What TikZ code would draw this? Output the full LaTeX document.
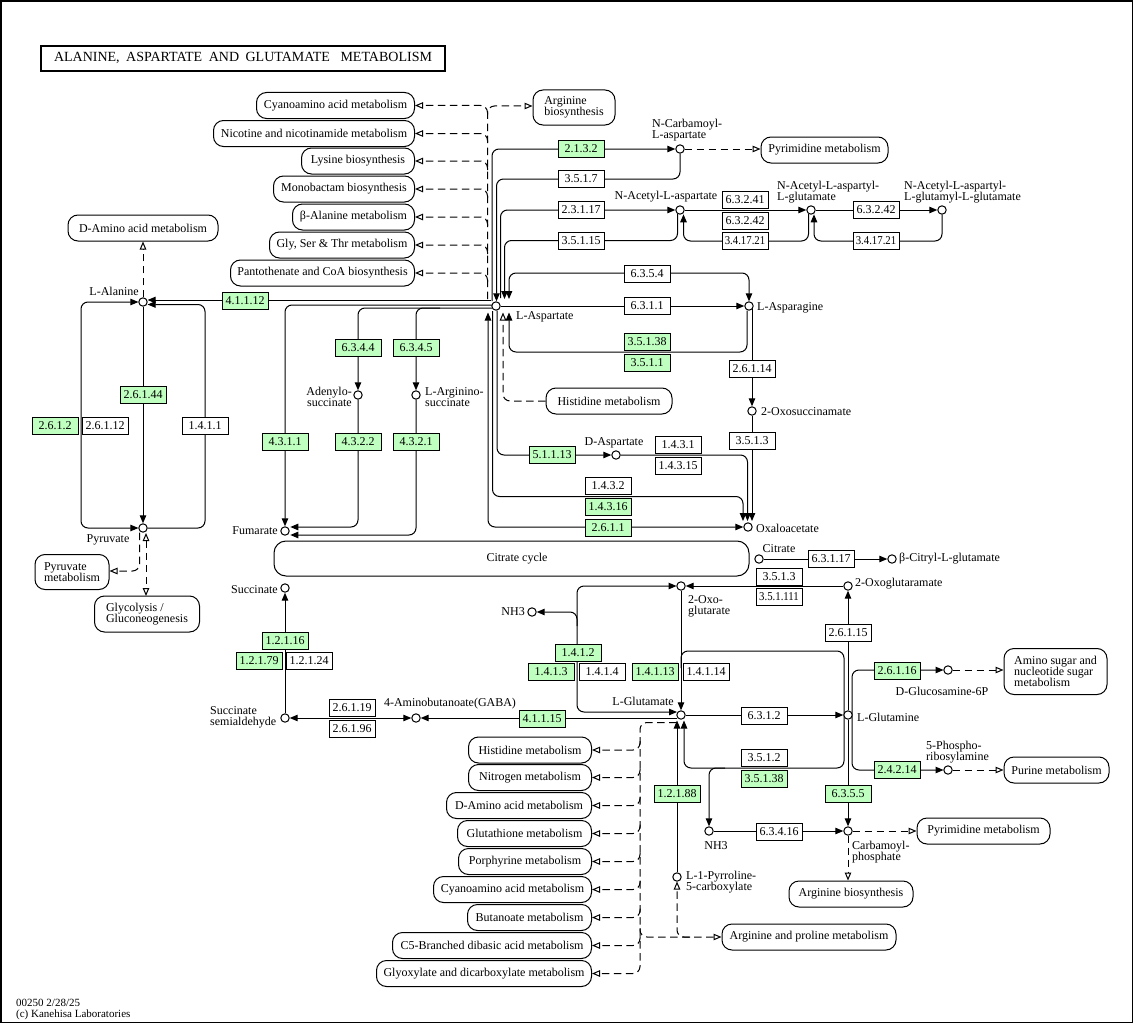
\documentclass[tikz,border=0pt]{standalone}
\usepackage{fontspec}
\setmainfont{Liberation Serif}
\usetikzlibrary{arrows.meta}
\definecolor{kgreen}{RGB}{191,255,191}
\pgfdeclarelayer{bg}
\pgfsetlayers{bg,main}
\newcommand{\narrowtext}[1]{\scalebox{0.9}[1]{#1}}
\begin{document}
\begin{tikzpicture}[x=1pt,y=-1pt,
  cpd/.style={circle,draw,fill=white,inner sep=0pt,minimum size=8.4pt,line width=1pt},
  enz/.style={draw,fill=white,inner sep=0pt,minimum width=46pt,minimum height=17pt,line width=1pt,font=\fontsize{12}{12}\selectfont},
  genz/.style={enz,fill=kgreen},
  mapb/.style={draw,fill=white,rounded corners=10pt,minimum height=26pt,inner sep=0pt,line width=1pt,font=\fontsize{12}{11}\selectfont,align=left},
  lbl/.style={inner sep=0pt,font=\fontsize{12}{11}\selectfont,align=left},
  ln/.style={line width=1pt,rounded corners=7pt},
  ar/.style={-{Triangle[length=8pt,width=6.5pt]}},
  bar/.style={{Triangle[length=8pt,width=6.5pt]}-{Triangle[length=8pt,width=6.5pt]}},
  dsh/.style={line width=1pt,rounded corners=7pt,dash pattern=on 7.5pt off 4.5pt},
  oar/.style={-{Triangle[open,length=8pt,width=6.5pt,fill=white]}},
  boar/.style={{Triangle[open,length=8pt,width=6.5pt,fill=white]}-{Triangle[open,length=8pt,width=6.5pt,fill=white]}}
]
\useasboundingbox (0,0) rectangle (1136,1025);
\draw[line width=1.2pt] (1,1) rectangle (1132.5,1022.5);

% title and footer
\node[draw,line width=1.5pt,minimum width=404pt,minimum height=25pt,inner sep=0pt,font=\fontsize{14}{14}\selectfont] (title) at (243,58.3)
  {\makebox[378pt][s]{ALANINE, ASPARTATE AND GLUTAMATE\hspace{4pt} METABOLISM}};
\node[lbl,anchor=west,font=\fontsize{11}{11}\selectfont] (ver) at (16,1003) {00250 2/28/25};
\node[lbl,anchor=west,font=\fontsize{11}{11}\selectfont] (copy) at (16,1015) {(c) Kanehisa Laboratories};

% ---------- maps ----------
\node[mapb,anchor=east,minimum width=158pt] (mcya1) at (415,105.5) {Cyanoamino acid metabolism};
\node[mapb,anchor=east,minimum width=201pt] (mnic) at (415,133.5) {Nicotine and nicotinamide metabolism};
\node[mapb,anchor=east,minimum width=113pt] (mlys) at (415,161) {Lysine biosynthesis};
\node[mapb,anchor=east,minimum width=141pt] (mmono) at (415,189) {Monobactam biosynthesis};
\node[mapb,anchor=east,minimum width=122pt] (mbala) at (415,217) {β-Alanine metabolism};
\node[mapb,anchor=east,minimum width=145pt] (mgly) at (415,245) {Gly, Ser \& Thr metabolism};
\node[mapb,anchor=east,minimum width=184pt] (mpan) at (415,273) {Pantothenate and CoA biosynthesis};
\node[mapb,minimum width=82pt,minimum height=35pt] (margb1) at (574,107.5) {Arginine\\biosynthesis};
\node[mapb,minimum width=127pt] (mpyr1) at (824.5,150) {Pyrimidine metabolism};
\node[mapb,minimum width=150pt] (mdam1) at (143,228) {D-Amino acid metabolism};
\node[mapb,minimum width=126pt] (mhis1) at (609,401) {Histidine metabolism};
\node[mapb,minimum width=74pt,minimum height=35pt] (mpyrm) at (72,572) {Pyruvate\\metabolism};
\node[mapb,minimum width=105pt,minimum height=36pt] (mglyc) at (147,614) {Glycolysis /\\Gluconeogenesis};
\node[mapb,minimum width=475pt,minimum height=35pt,rounded corners=12pt] (mtca) at (511.5,558.5) {\hspace*{11pt}Citrate cycle};
\node[mapb,minimum width=103pt,minimum height=46pt] (mamino) at (1055.5,671.5) {Amino sugar and\\nucleotide sugar\\metabolism};
\node[mapb,minimum width=105pt] (mpur) at (1056.5,770) {Purine metabolism};
\node[mapb,minimum width=133pt] (mpyr2) at (983.5,831) {Pyrimidine metabolism};
\node[mapb,minimum width=124pt] (margb2) at (851,894) {Arginine biosynthesis};
\node[mapb,minimum width=174pt] (margpro) at (809,937) {Arginine and proline metabolism};
\node[mapb,anchor=east,minimum width=123pt] (mhis2) at (592,750) {Histidine metabolism};
\node[mapb,anchor=east,minimum width=123pt] (mnit) at (592,777.5) {Nitrogen metabolism};
\node[mapb,anchor=east,minimum width=145pt] (mdam2) at (592,805.5) {D-Amino acid metabolism};
\node[mapb,anchor=east,minimum width=134pt] (mglut) at (592,833.5) {Glutathione metabolism};
\node[mapb,anchor=east,minimum width=133pt] (mpor) at (592,861.5) {Porphyrine metabolism};
\node[mapb,anchor=east,minimum width=158pt] (mcya2) at (592,889.5) {Cyanoamino acid metabolism};
\node[mapb,anchor=east,minimum width=124pt] (mbut) at (592,917.5) {Butanoate metabolism};
\node[mapb,anchor=east,minimum width=199pt] (mc5) at (592,945.5) {C5-Branched dibasic acid metabolism};
\node[mapb,anchor=east,minimum width=215pt] (mglx) at (592,973.5) {Glyoxylate and dicarboxylate metabolism};

% ---------- compounds ----------
\node[cpd] (ala) at (143,302) {};
\node[cpd] (pyr) at (143,528) {};
\node[cpd] (asp) at (496,306) {};
\node[cpd] (asn) at (749,306) {};
\node[cpd] (ncasp) at (680,149) {};
\node[cpd] (naa) at (680,210) {};
\node[cpd] (naag) at (811,210) {};
\node[cpd] (naagg) at (942,210) {};
\node[cpd] (adsucc) at (358,395) {};
\node[cpd] (argsucc) at (416,395) {};
\node[cpd] (oxosuc) at (752,411) {};
\node[cpd] (dasp) at (616,455) {};
\node[cpd] (oaa) at (748,527) {};
\node[cpd] (fum) at (285,531) {};
\node[cpd] (succ) at (285,588) {};
\node[cpd] (ssa) at (285,718) {};
\node[cpd] (gaba) at (416,718) {};
\node[cpd] (glu) at (681,715) {};
\node[cpd] (akg) at (681,586) {};
\node[cpd] (nh3a) at (532,612) {};
\node[cpd] (oxoglm) at (848,586) {};
\node[cpd] (cit) at (759,559) {};
\node[cpd] (bcit) at (892,559) {};
\node[cpd] (gln) at (848,715) {};
\node[cpd] (glcn) at (948,670) {};
\node[cpd] (prpp) at (948,770) {};
\node[cpd] (cp) at (848,831) {};
\node[cpd] (nh3b) at (709,831) {};
\node[cpd] (p5c) at (677,877) {};

% ---------- compound labels ----------
\node[lbl,anchor=east] (lala) at (139,291) {L-Alanine};
\node[lbl] (lpyr) at (108,540) {Pyruvate};
\node[lbl,anchor=west] (lasp) at (516,317) {L-Aspartate};
\node[lbl,anchor=west] (lasn) at (757,308) {L-Asparagine};
\node[lbl,anchor=west] (lncasp) at (652,130) {N-Carbamoyl-\\L-aspartate};
\node[lbl] (lnaa) at (666,197) {N-Acetyl-L-aspartate};
\node[lbl,anchor=west] (lnaag) at (777,192) {N-Acetyl-L-aspartyl-\\L-glutamate};
\node[lbl,anchor=west] (lnaagg) at (904,192) {N-Acetyl-L-aspartyl-\\L-glutamyl-L-glutamate};
\node[lbl,anchor=east,align=right] (ladsucc) at (352,397) {Adenylo-\\succinate};
\node[lbl,anchor=west] (largsucc) at (425,397) {L-Arginino-\\succinate};
\node[lbl,anchor=west] (loxosuc) at (761,412) {2-Oxosuccinamate};
\node[lbl] (ldasp) at (614,443) {D-Aspartate};
\node[lbl,anchor=west] (loaa) at (756,528) {Oxaloacetate};
\node[lbl,anchor=east] (lfum) at (278,531) {Fumarate};
\node[lbl,anchor=east] (lsucc) at (278,590) {Succinate};
\node[lbl,anchor=west] (lssa) at (210,717) {Succinate\\semialdehyde};
\node[lbl] (lgaba) at (450,704) {4-Aminobutanoate(GABA)};
\node[lbl,anchor=east] (lglu) at (674,701) {L-Glutamate};
\node[lbl,anchor=west] (lakg) at (688,606) {2-Oxo-\\glutarate};
\node[lbl,anchor=east] (lnh3a) at (525,612) {NH3};
\node[lbl,anchor=west] (loxoglm) at (855,584) {2-Oxoglutaramate};
\node[lbl] (lcit) at (779,549) {Citrate};
\node[lbl,anchor=west] (lbcit) at (899,559) {β-Citryl-L-glutamate};
\node[lbl,anchor=west] (lgln) at (857,717) {L-Glutamine};
\node[lbl] (lglcn) at (942,691) {D-Glucosamine-6P};
\node[lbl,anchor=west] (lprpp) at (926,752) {5-Phospho-\\ribosylamine};
\node[lbl,anchor=west] (lcp) at (852,852) {Carbamoyl-\\phosphate};
\node[lbl] (lnh3b) at (716,846) {NH3};
\node[lbl,anchor=west] (lp5c) at (686,882) {L-1-Pyrroline-\\5-carboxylate};

% ---------- enzymes ----------
\node[genz] (g2132) at (581,149) {2.1.3.2};
\node[enz] (w3517) at (581,179) {3.5.1.7};
\node[enz] (w23117) at (581,210) {2.3.1.17};
\node[enz] (w35115) at (581,240.5) {3.5.1.15};
\node[enz] (w63241) at (745,200) {6.3.2.41};
\node[enz] (w63242a) at (745,220.5) {6.3.2.42};
\node[enz] (w341721a) at (745,241) {\narrowtext{3.4.17.21}};
\node[enz] (w63242b) at (876,210) {6.3.2.42};
\node[enz] (w341721b) at (876,241) {\narrowtext{3.4.17.21}};
\node[enz] (w6354) at (647,274) {6.3.5.4};
\node[enz] (w6311) at (647,306) {6.3.1.1};
\node[genz] (g41112) at (245,301) {4.1.1.12};
\node[genz] (g6344) at (358,348) {6.3.4.4};
\node[genz] (g6345) at (416,348) {6.3.4.5};
\node[genz] (g26144) at (143,395) {2.6.1.44};
\node[genz] (g2612) at (55,426) {2.6.1.2};
\node[enz] (w26112) at (105,426) {2.6.1.12};
\node[enz] (w1411) at (205,426) {1.4.1.1};
\node[genz] (g4311) at (285,442) {4.3.1.1};
\node[genz] (g4322) at (358,442) {4.3.2.2};
\node[genz] (g4321) at (416,442) {4.3.2.1};
\node[genz] (g35138a) at (647,342) {3.5.1.38};
\node[genz] (g3511) at (647,362.5) {3.5.1.1};
\node[enz] (w26114) at (752,369) {2.6.1.14};
\node[enz] (w3513a) at (752,441) {3.5.1.3};
\node[genz] (g51113) at (552,455) {5.1.1.13};
\node[enz] (w1431) at (678,445) {1.4.3.1};
\node[enz] (w14315) at (678,466) {1.4.3.15};
\node[enz] (w1432) at (608,486) {1.4.3.2};
\node[genz] (g14316) at (608,507) {1.4.3.16};
\node[genz] (g2611) at (608,527.5) {2.6.1.1};
\node[enz] (w63117) at (831,558.5) {6.3.1.17};
\node[enz] (w3513b) at (779,576.5) {3.5.1.3};
\node[enz] (w351111) at (779,597) {\narrowtext{3.5.1.111}};
\node[enz] (w26115) at (848,633) {2.6.1.15};
\node[genz] (g12116) at (285,641) {1.2.1.16};
\node[genz] (g12179) at (259,661) {1.2.1.79};
\node[enz] (w12124) at (309,661) {1.2.1.24};
\node[genz] (g1412) at (578,653) {1.4.1.2};
\node[genz] (g1413) at (551,672) {1.4.1.3};
\node[enz] (w1414) at (602,672) {1.4.1.4};
\node[genz] (g14113) at (655,672) {1.4.1.13};
\node[enz] (w14114) at (706,672) {1.4.1.14};
\node[enz] (w26119) at (352,708) {2.6.1.19};
\node[enz] (w26196) at (352,728.5) {2.6.1.96};
\node[genz] (g41115) at (542,718.5) {4.1.1.15};
\node[enz] (w6312) at (764,715.5) {6.3.1.2};
\node[enz] (w3512) at (764,758) {3.5.1.2};
\node[genz] (g35138b) at (764,778.5) {3.5.1.38};
\node[genz] (g12188) at (677,794) {1.2.1.88};
\node[genz] (g6355) at (848,794) {6.3.5.5};
\node[enz] (w63416) at (779,832) {6.3.4.16};
\node[genz] (g26116) at (897,670.5) {2.6.1.16};
\node[genz] (g24214) at (897,770) {2.4.2.14};

% ---------- connectors ----------
\begin{pgfonlayer}{bg}
% alanine / pyruvate
\draw[ln,ar] (491,300) -- (147.6,300);
\draw[ln,ar] (pyr.east) -- (205,528) -- (205,304.5) -- (147.6,304.5);
\draw[ln,bar] (138.4,302) -- (81,302) -- (81,528) -- (138.4,528);
\draw[ln,ar] (ala) -- (pyr);
\draw[dsh,oar] (ala) -- (mdam1);
\draw[dsh,oar] (139.5,532.5) -- (139.5,571) -- (mpyrm.east |- 0,571);
\draw[dsh,boar] (146,533) -- (146,596);
% aspartate -> fumarate branch
\draw[ln,ar] (492,305) -- (285,305) -- (fum);
\draw[ln,ar] (492,308) -- (358,308) -- (adsucc);
\draw[ln,ar] (440,308) -- (416,308) -- (argsucc);
\draw[ln,ar] (adsucc) -- (358,527) -- (290.3,527);
\draw[ln,ar] (argsucc) -- (416,535) -- (290.3,535);
% aspartate upward
\draw[ln,ar] (492,301) -- (492,149) -- (ncasp);
\draw[ln,ar] (ncasp) -- (680,179) -- (496.5,179) -- (496.5,301.3);
\draw[ln,ar] (500.5,298) -- (500.5,210) -- (naa);
\draw[ln,ar] (677.5,213.5) -- (677.5,240.5) -- (504.5,240.5) -- (504.5,299);
\draw[ln,bar] (509,299) -- (509,273) -- (749,273) -- (asn);
\draw[ln,ar] (asp) -- (asn);
\draw[ln,ar] (747,310.5) -- (747,352) -- (509,352) -- (509,312.5);
\draw[ln,ar] (752,308) -- (oxosuc);
\draw[ln,ar] (oxosuc) -- (752,521);
\draw[ln,ar] (dasp) -- (747.5,455) -- (747.5,521);
\draw[ln,ar] (492.5,311) -- (492.5,496.5) -- (743,496.5) -- (743,521);
\draw[ln,ar] (497,310.5) -- (497,455) -- (dasp);
\draw[ln,bar] (488,312.5) -- (488,527) -- (oaa);
\draw[dsh,oar] (mhis1.west) -- (503,401) -- (503,312.5);
% dashed trunk to upper maps
\draw[dsh,oar] (487.5,299) -- (487.5,106) -- (margb1.west |- 0,106);
\foreach \yy in {105.5,133.5,161,189,217,245,273}{
  \draw[dsh,oar] (487.5,\yy+9) -- (487.5,\yy) -- (415,\yy);
}
% N-acetyl series
\draw[dsh,oar] (ncasp) -- (mpyr1.west |- ncasp);
\draw[ln,ar] (naa) -- (naag);
\draw[ln,ar] (808.5,214) -- (808.5,241) -- (683.5,241) -- (683.5,214.3);
\draw[ln,ar] (naag) -- (naagg);
\draw[ln,ar] (naagg) -- (942,241) -- (814,241) -- (814,214.3);
% citrate
\draw[ln,ar] (cit) -- (bcit);
% glutamate area
\draw[ln,bar] (676.5,586) -- (577,586) -- (577,712) -- (677,712);
\draw[ln,ar] (577,626) -- (577,612) -- (nh3a);
\draw[ln,ar] (akg) -- (glu);
\draw[ln,ar] (681,668) -- (681,651) -- (844,651) -- (844,768) -- (684,768) -- (684,720.5);
\draw[ln,ar] (725,768) -- (709,768) -- (nh3b);
\draw[ln,ar] (p5c) -- (677,720.5);
\draw[ln,ar] (glu) -- (gln);
\draw[ln,ar] (gln) -- (oxoglm);
\draw[ln,ar] (oxoglm) -- (akg);
\draw[ln,ar] (gln) -- (cp);
\draw[ln,ar] (nh3b) -- (cp);
\draw[ln,bar] (943.5,670) -- (852,670) -- (852,770) -- (943.5,770);
\draw[dsh,oar] (glcn) -- (mamino.west |- glcn);
\draw[dsh,oar] (prpp) -- (mpur.west |- prpp);
\draw[dsh,oar] (cp) -- (mpyr2.west |- cp);
\draw[dsh,oar] (cp) -- (cp |- margb2.north);
\draw[ln,ar] (676.8,718) -- (gaba);
\draw[ln,bar] (gaba) -- (ssa);
\draw[ln,ar] (ssa) -- (succ);
% dashed trunk from glutamate
\draw[dsh,oar] (676.5,722.5) -- (640,722.5) -- (640,973.5) -- (592,973.5);
\foreach \yy in {750,777.5,805.5,833.5,861.5,889.5,917.5,945.5}{
  \draw[dsh,oar] (640,\yy-9) -- (640,\yy) -- (592,\yy);
}
\draw[dsh,oar] (640,928) -- (640,937) -- (margpro.west);
\draw[dsh,oar] (690,937) -- (677,937) -- (677,881.5);
\end{pgfonlayer}
\end{tikzpicture}
\end{document}
